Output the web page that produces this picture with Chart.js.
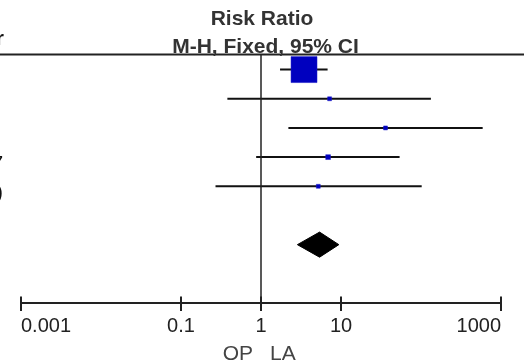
<!DOCTYPE html>
<html>
<head>
<meta charset="utf-8">
<script src="https://cdn.jsdelivr.net/npm/chart.js@4"></script>
<style>
  body { margin: 0; background: #fff; }
  #wrap { width: 527px; height: 364px; position: relative; }
</style>
</head>
<body>
<div id="wrap"><canvas id="forestChart"></canvas></div>
<script>
// Données du forest plot (risk ratio, IC 95 %)
const rowLabels = ['', '', '', '2007', '(2009)'];
const riskRatio = [3.45, 7.2, 36, 6.9, 5.2];
const ciLower = [1.73, 0.38, 2.2, 0.87, 0.27];
const ciUpper = [6.8, 133, 590, 54, 102];
const weights = [90.6, 2.1, 2.1, 3.1, 2.1];

// Effet global (diamant)
const pooledRR = 5.4;
const pooledLower = 2.85;
const pooledUpper = 9.4;

// Axe x
const tickValues = [0.001, 0.1, 1, 10, 1000];
const tickLabels = ['0.001', '0.1', '1', '10', '1000'];

const FONT = 'Arial, "Liberation Sans", sans-serif';
const pooledRow = 6;
const diamondHalf = 0.43;

// Lignes des intervalles de confiance, une par étude
const ciDatasets = riskRatio.map((rr, i) => ({
    type: 'scatter',
    data: [{ x: ciLower[i], y: i }, { x: ciUpper[i], y: i }],
    showLine: true,
    borderColor: '#111',
    borderWidth: 2,
    pointRadius: 0,
    order: 3
}));

// Carrés proportionnels au poids
const squareDataset = {
    type: 'scatter',
    data: riskRatio.map((rr, i) => ({ x: rr, y: i })),
    pointStyle: 'rect',
    pointRadius: weights.map(w => Math.sqrt(w) * 2.73 / Math.SQRT2),
    backgroundColor: '#0000bf',
    borderColor: '#1a1ac8',
    borderWidth: 0.5,
    order: 1
};

const diamondDataset = {
    type: 'scatter',
    data: [
        { x: pooledLower, y: pooledRow },
        { x: pooledRR, y: pooledRow - diamondHalf },
        { x: pooledUpper, y: pooledRow },
        { x: pooledRR, y: pooledRow + diamondHalf },
        { x: pooledLower, y: pooledRow }
    ],
    showLine: true,
    fill: 'shape',
    backgroundColor: '#000',
    borderColor: '#000',
    borderWidth: 1,
    pointRadius: 0,
    order: 2
};

// Décorations : titres, filets, axe et libellés
const forestDecor = {
    id: 'forestDecor',
    afterDraw(chart) {
        const { ctx, chartArea, scales } = chart;
        const xs = scales.x;
        const ys = scales.y;
        const x1 = xs.getPixelForValue(1);
        const axisY = chartArea.bottom;
        ctx.save();

        // filet horizontal sous l'en-tête
        ctx.strokeStyle = '#222';
        ctx.lineWidth = 2;
        ctx.beginPath();
        ctx.moveTo(0, chartArea.top - 0.5);
        ctx.lineTo(524, chartArea.top - 0.5);
        ctx.stroke();

        // ligne verticale d'absence d'effet
        ctx.lineWidth = 1.5;
        ctx.beginPath();
        ctx.moveTo(x1, chartArea.top);
        ctx.lineTo(x1, axisY);
        ctx.stroke();

        // axe des x et graduations
        ctx.lineWidth = 2;
        ctx.beginPath();
        ctx.moveTo(xs.getPixelForValue(tickValues[0]), axisY);
        ctx.lineTo(xs.getPixelForValue(tickValues[tickValues.length - 1]), axisY);
        tickValues.forEach(v => {
            const px = xs.getPixelForValue(v);
            ctx.moveTo(px, axisY - 6.5);
            ctx.lineTo(px, axisY + 8);
        });
        ctx.stroke();

        // en-tête de colonne
        ctx.fillStyle = '#333';
        ctx.font = 'bold 21px ' + FONT;
        ctx.textAlign = 'center';
        ctx.textBaseline = 'alphabetic';
        ctx.fillText('Risk Ratio', x1 + 1, 25);
        ctx.fillText('M-H, Fixed, 95% CI', x1 + 4.5, 53);

        // libellés des études (coupés à gauche)
        ctx.fillStyle = '#111';
        ctx.textAlign = 'right';
        ctx.fillText('Year', 4, 45);
        ctx.font = '20px ' + FONT;
        rowLabels.forEach((lab, i) => {
            if (lab) ctx.fillText(lab, 3, ys.getPixelForValue(i) + 13);
        });

        // favorise OP / LA
        ctx.fillStyle = '#444';
        ctx.font = '21px ' + FONT;
        ctx.textAlign = 'right';
        ctx.fillText('OP', x1 - 8, 360);
        ctx.textAlign = 'left';
        ctx.fillText('LA', x1 + 9, 360);
        ctx.restore();
    }
};

const ctx = document.getElementById('forestChart').getContext('2d');
const chart = new Chart(ctx, {
    type: 'scatter',
    data: {
        datasets: [...ciDatasets, diamondDataset, squareDataset]
    },
    options: {
        responsive: true,
        maintainAspectRatio: false,
        animation: false,
        layout: {
            padding: { top: 55, left: 21, right: 26, bottom: 15 }
        },
        plugins: {
            legend: { display: false },
            tooltip: { enabled: false }
        },
        scales: {
            x: {
                type: 'logarithmic',
                position: 'bottom',
                min: 0.001,
                max: 1000,
                afterBuildTicks: function(scale) {
                    scale.ticks = tickValues.map(v => ({ value: v }));
                },
                grid: { display: false, drawTicks: false },
                border: { display: false },
                ticks: {
                    align: 'inner',
                    autoSkip: false,
                    maxRotation: 0,
                    padding: 11,
                    color: '#222',
                    font: { family: FONT, size: 20 },
                    callback: function(value, index) {
                        return tickLabels[index];
                    }
                }
            },
            y: {
                type: 'linear',
                display: false,
                reverse: true,
                min: -0.5,
                max: 8
            }
        }
    },
    plugins: [forestDecor]
});
</script>
</body>
</html>
